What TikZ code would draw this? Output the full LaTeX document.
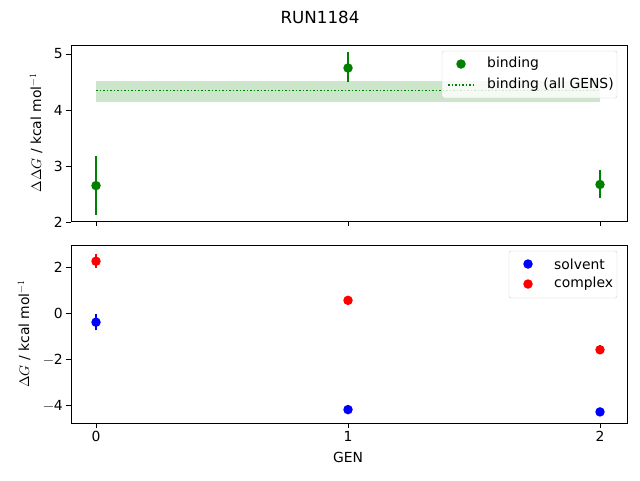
\documentclass[tikz,border=0pt]{standalone}
\usepackage{fontspec}
\setmainfont{DejaVu Sans}
\usepackage{unicode-math}
\setmathfont{Latin Modern Math}
\definecolor{mgreen}{HTML}{008000}
\definecolor{mblue}{HTML}{0000FF}
\definecolor{mred}{HTML}{FF0000}
\newcommand{\tickfont}{\fontsize{13.9}{16}\selectfont}
\begin{document}
\begin{tikzpicture}[x=1pt,y=-1pt,
  frame/.style={draw, line width=0.9pt},
  tick/.style={line width=0.9pt},
  dot/.style={circle, fill=#1, inner sep=0pt, minimum size=9.5pt},
  errbar/.style={draw=#1, line width=1.8pt},
  lbl/.style={font=\tickfont, inner sep=1pt}]
\useasboundingbox (0,0) rectangle (640,480);

% data coordinates: x -> 96+252*x
\def\xs#1{96+252*(#1)}
\def\yt#1{334-56*(#1)}
\def\yb#1{313-23*(#1)}

\node[font=\fontsize{16.7}{18}\selectfont] (title) at (320,17) {RUN1184};

% Top panel
\fill[mgreen, opacity=0.2] ({\xs{0}},{\yt{4.52}}) rectangle ({\xs{2}},{\yt{4.15}});
\draw[mgreen, dotted, line width=1.5pt] ({\xs{0}},{\yt{4.35}}) -- ({\xs{2}},{\yt{4.35}});
\foreach \g/\v/\lo/\hi in {0/2.65/2.13/3.17, 1/4.75/4.50/5.03, 2/2.67/2.43/2.93} {
  \draw[errbar=mgreen] ({\xs{\g}},{\yt{\lo}}) -- ({\xs{\g}},{\yt{\hi}});
  \node[dot=mgreen] (b\g) at ({\xs{\g}},{\yt{\v}}) {};
}
\draw[frame] (71,45) rectangle (627,221);
\foreach \v in {2,3,4,5} {
  \draw[tick] (71,{\yt{\v}}) -- (66,{\yt{\v}});
  \node[lbl, anchor=east] (ty\v) at (64,{\yt{\v}}) {\v};
}
\foreach \g in {0,1,2}
  \draw[tick] ({\xs{\g}},221) -- ({\xs{\g}},226);
\node[lbl, rotate=90] (ylt) at (36,133) {$\Delta\Delta G$ / kcal mol$^{-1}$};

% Top legend
\draw[draw=black!20, fill=white, fill opacity=0.8, rounded corners=2pt] (442,51) rectangle (617,98);
\node[dot=mgreen] (lgb) at (461,64) {};
\node[lbl, anchor=west] (lgbt) at (486,64) {binding};
\coordinate (lga) at (448,85);
\coordinate (lgc) at (474,85);
\draw[mgreen, dotted, line width=1.5pt] (lga) -- (lgc);
\node[lbl, anchor=west] (lgat) at (486,85) {binding (all GENS)};

% Bottom panel
\foreach \g/\v/\e in {0/-0.4/0.35, 1/-4.2/0.1, 2/-4.3/0.1} {
  \draw[errbar=mblue] ({\xs{\g}},{\yb{\v-\e}}) -- ({\xs{\g}},{\yb{\v+\e}});
  \node[dot=mblue] (s\g) at ({\xs{\g}},{\yb{\v}}) {};
}
\foreach \g/\v/\e in {0/2.25/0.3, 1/0.55/0.2, 2/-1.6/0.2} {
  \draw[errbar=mred] ({\xs{\g}},{\yb{\v-\e}}) -- ({\xs{\g}},{\yb{\v+\e}});
  \node[dot=mred] (c\g) at ({\xs{\g}},{\yb{\v}}) {};
}
\draw[frame] (71,245) rectangle (627,423);
\foreach \v/\t in {2/2, 0/0, -2/{$-$2}, -4/{$-$4}} {
  \draw[tick] (71,{\yb{\v}}) -- (66,{\yb{\v}});
  \node[lbl, anchor=east] at (64,{\yb{\v}}) {\t};
}
\foreach \g in {0,1,2} {
  \draw[tick] ({\xs{\g}},423) -- ({\xs{\g}},428);
  \node[lbl, anchor=north] (tx\g) at ({\xs{\g}},430) {\g};
}
\node[lbl, rotate=90] (ylb) at (24,334) {$\Delta G$ / kcal mol$^{-1}$};
\node[lbl] (xl) at (348,457) {GEN};

% Bottom legend
\draw[draw=black!20, fill=white, fill opacity=0.8, rounded corners=2pt] (509,251) rectangle (617,298);
\node[dot=mblue] (lgs) at (528,264) {};
\node[lbl, anchor=west] at (553,264) {solvent};
\node[dot=mred] (lgx) at (528,284) {};
\node[lbl, anchor=west] at (553,284) {complex};
\end{tikzpicture}
\end{document}
